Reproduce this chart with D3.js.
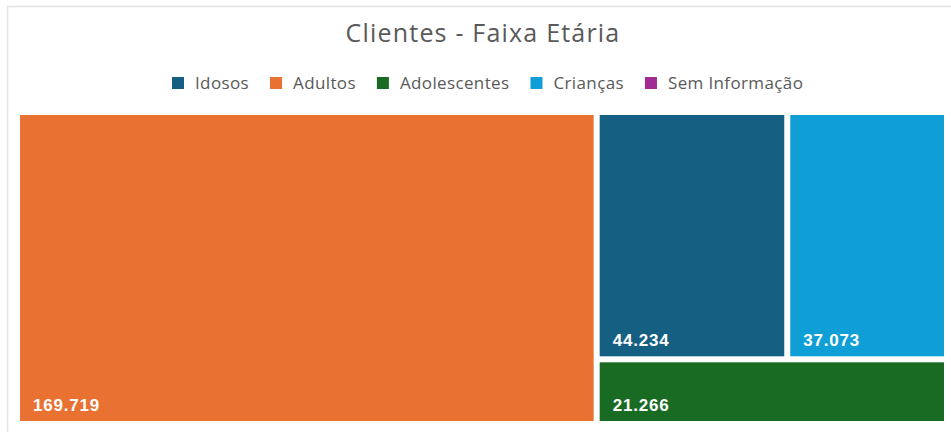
<!DOCTYPE html>
<html>
<head>
<meta charset="utf-8">
<script src="https://cdn.jsdelivr.net/npm/d3@7"></script>
<style>
  html, body { margin: 0; padding: 0; background: #fff; }
  #chart { width: 951px; height: 432px; overflow: hidden; }
</style>
</head>
<body>
<div id="chart"></div>
<script>
// categories in legend order, with values and colours
const categories = ["Idosos", "Adultos", "Adolescentes", "Crianças", "Sem Informação"];
const values = [44234, 169719, 21266, 37073, 0];
const colors = ["#156082", "#E97132", "#196B24", "#0F9ED5", "#A02B93"];

const width = 951, height = 432;

const svg = d3.select("#chart").append("svg")
  .attr("width", width)
  .attr("height", height);

// card border
svg.append("rect")
  .attr("x", 7.5).attr("y", 6.5)
  .attr("width", 980).attr("height", 460)
  .attr("fill", "#fff")
  .attr("stroke", "#e3e3e3")
  .attr("stroke-width", 1.5);

// title
svg.append("text")
  .attr("x", 483).attr("y", 42)
  .attr("text-anchor", "middle")
  .style("font-family", "'Open Sans', sans-serif")
  .style("font-size", "25px")
  .style("letter-spacing", "1.2px")
  .attr("fill", "#595959")
  .text("Clientes - Faixa Etária");

// legend
const legend = svg.append("g").attr("transform", "translate(172,83)");
let lx = 0;
categories.forEach((c, i) => {
  const g = legend.append("g").attr("transform", `translate(${lx},0)`);
  g.append("rect")
    .attr("x", 0).attr("y", -6)
    .attr("width", 12).attr("height", 12)
    .attr("fill", colors[i]);
  const t = g.append("text")
    .attr("x", 23).attr("y", 0)
    .attr("dy", "0.35em")
    .style("font-family", "'Open Sans', sans-serif")
    .style("font-size", "17px")
    .style("letter-spacing", "0.37px")
    .attr("fill", "#595959")
    .text(c);
  lx += 23 + t.node().getComputedTextLength() + 21;
});

// treemap tiling: greedy squarify trying a row along the top or a column on the left
function worst(vals, sum, total, dx, dy, orient) {
  // orient "col": strip of width dx*sum/total, items stacked along dy
  const thick = (orient === "col" ? dx : dy) * sum / total;
  const len = orient === "col" ? dy : dx;
  let w = 0;
  vals.forEach(v => {
    const l = len * v / sum;
    w = Math.max(w, Math.max(thick / l, l / thick));
  });
  return w;
}

function tile(parent, x0, y0, x1, y1) {
  const nodes = parent.children;
  let i = 0, total = parent.value;
  while (i < nodes.length) {
    const dx = x1 - x0, dy = y1 - y0;
    let best = null;
    ["col", "row"].forEach(orient => {
      let prev = Infinity, j = i, sum = 0;
      while (j < nodes.length) {
        const s = sum + nodes[j].value;
        const vals = nodes.slice(i, j + 1).map(d => d.value);
        const w = worst(vals, s, total, dx, dy, orient);
        if (w > prev) break;
        prev = w; sum = s; j++;
      }
      if (!best || prev < best.w) best = { orient, w: prev, j, sum };
    });
    const row = nodes.slice(i, best.j);
    if (best.orient === "col") {
      const xe = best.j >= nodes.length ? x1 : x0 + dx * best.sum / total;
      let y = y0;
      row.forEach(n => {
        n.x0 = x0; n.x1 = xe; n.y0 = y; y += dy * n.value / best.sum; n.y1 = y;
      });
      x0 = xe;
    } else {
      const ye = best.j >= nodes.length ? y1 : y0 + dy * best.sum / total;
      let x = x0;
      row.forEach(n => {
        n.y0 = y0; n.y1 = ye; n.x0 = x; x += dx * n.value / best.sum; n.x1 = x;
      });
      y0 = ye;
    }
    total -= best.sum;
    i = best.j;
  }
}

const data = categories.map((c, i) => ({ name: c, value: values[i], color: colors[i] }))
  .filter(d => d.value > 0);

const root = d3.hierarchy({ children: data })
  .sum(d => d.value || 0)
  .sort((a, b) => b.value - a.value);

d3.treemap()
  .tile(tile)
  .size([924 + 3, 306 + 3])
  .paddingInner(3)(root);

const fmt = d3.formatLocale({ decimal: ",", thousands: ".", grouping: [3], currency: ["", ""] }).format(",d");

const cells = svg.append("g")
  .attr("transform", "translate(20,115)")
  .selectAll("g")
  .data(root.leaves())
  .join("g")
  .attr("transform", d => `translate(${d.x0},${d.y0})`);

cells.append("rect")
  .attr("width", d => d.x1 - d.x0 - 3)
  .attr("height", d => d.y1 - d.y0 - 3)
  .attr("fill", d => d.data.color);

cells.append("text")
  .attr("x", 13)
  .attr("y", d => d.y1 - d.y0 - 3 - 10)
  .style("font-family", "'Liberation Sans', Arial, sans-serif")
  .style("font-size", "17px")
  .style("font-weight", "bold")
  .style("letter-spacing", "0.8px")
  .attr("fill", "#fff")
  .text(d => fmt(d.value));
</script>
</body>
</html>
